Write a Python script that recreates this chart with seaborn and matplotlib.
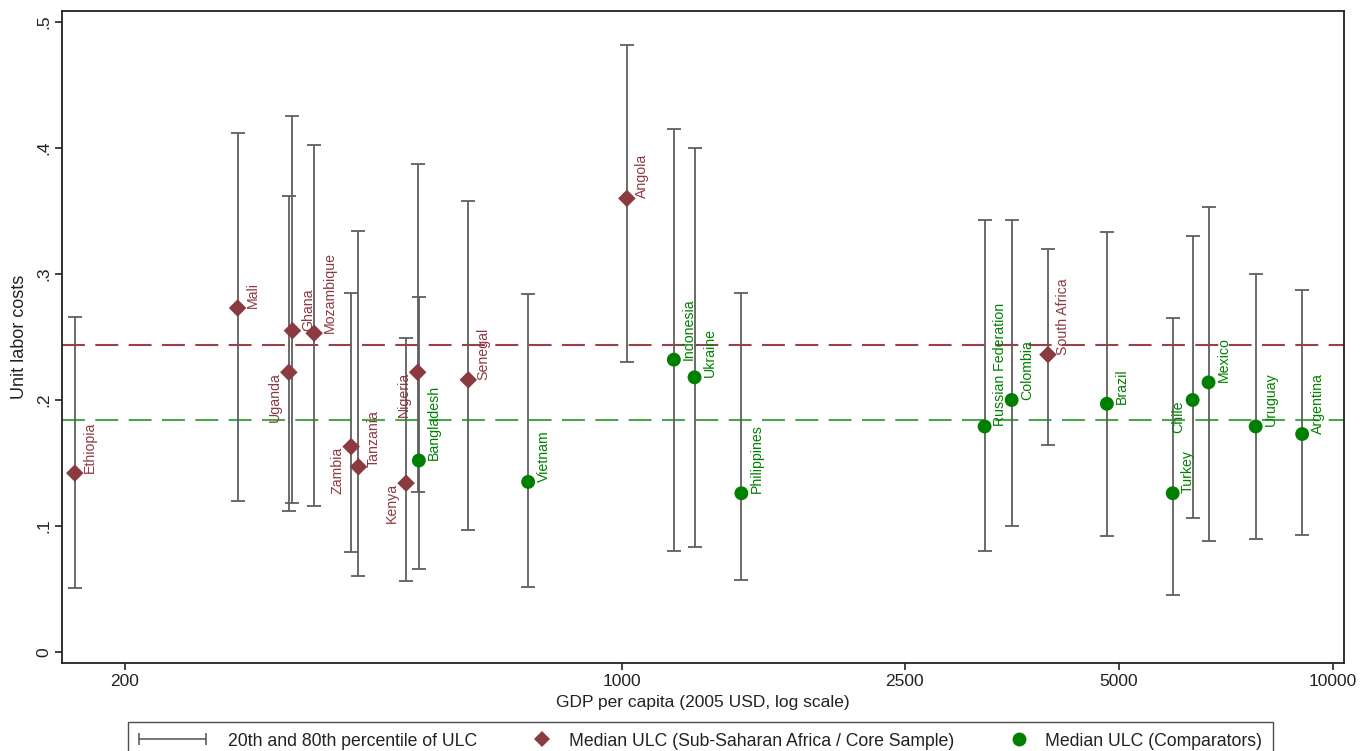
import numpy as np
import pandas as pd
import matplotlib
matplotlib.use("Agg")
import matplotlib.pyplot as plt
import seaborn as sns
from matplotlib.lines import Line2D
from matplotlib.legend_handler import HandlerLine2D

# Values
countries = [
    "Ethiopia", "Mali", "Uganda", "Ghana", "Mozambique", "Zambia", "Tanzania",
    "Kenya", "Nigeria", "Bangladesh", "Senegal", "Vietnam", "Angola",
    "Indonesia", "Ukraine", "Philippines", "Russian Federation", "Colombia",
    "South Africa", "Brazil", "Turkey", "Chile", "Mexico", "Uruguay", "Argentina",
]
gdp_per_capita = [
    170, 288, 340, 344, 369, 416, 426,
    497, 516, 518, 608, 738, 1016,
    1183, 1265, 1472, 3236, 3532,
    3973, 4808, 5951, 6347, 6683, 7785, 9050,
]
ulc_median = [
    0.142, 0.273, 0.222, 0.255, 0.253, 0.163, 0.147,
    0.134, 0.222, 0.152, 0.216, 0.135, 0.360,
    0.232, 0.218, 0.126, 0.179, 0.200,
    0.236, 0.197, 0.126, 0.200, 0.214, 0.179, 0.173,
]
ulc_p20 = [
    0.051, 0.120, 0.112, 0.118, 0.116, 0.079, 0.060,
    0.056, 0.127, 0.066, 0.097, 0.052, 0.230,
    0.080, 0.083, 0.057, 0.080, 0.100,
    0.164, 0.092, 0.045, 0.106, 0.088, 0.090, 0.093,
]
ulc_p80 = [
    0.266, 0.412, 0.362, 0.425, 0.402, 0.285, 0.334,
    0.249, 0.387, 0.282, 0.358, 0.284, 0.482,
    0.415, 0.400, 0.285, 0.343, 0.343,
    0.320, 0.333, 0.265, 0.330, 0.353, 0.300, 0.287,
]
group = [
    "SSA", "SSA", "SSA", "SSA", "SSA", "SSA", "SSA",
    "SSA", "SSA", "Comp", "SSA", "Comp", "SSA",
    "Comp", "Comp", "Comp", "Comp", "Comp",
    "SSA", "Comp", "Comp", "Comp", "Comp", "Comp", "Comp",
]

ssa_median_line = 0.2437
comp_median_line = 0.184

x_ticks = [200, 1000, 2500, 5000, 10000]
y_ticks = [0, 0.1, 0.2, 0.3, 0.4, 0.5]
y_tick_labels = ["0", ".1", ".2", ".3", ".4", ".5"]

legend_labels = [
    "20th and 80th percentile of ULC",
    "Median ULC (Sub-Saharan Africa / Core Sample)",
    "Median ULC (Comparators)",
]

# labels drawn on the left-hand side of their marker
left_labelled = {"Uganda", "Zambia", "Kenya", "Nigeria", "Chile"}

RED = "#8b3a40"
GREEN = "#008000"
RED_LINE = "#9a4048"
GREEN_LINE = "#4aa84a"
BAR = "#5f5f5f"


class EndMarkerHandler(HandlerLine2D):
    """Put the single legend marker near the right end of the handle box."""

    def get_xdata(self, legend, xdescent, ydescent, width, height, fontsize):
        x = -xdescent + width - 0.25 * fontsize
        return np.array([x, x]), np.array([x])


def main() -> None:
    df = pd.DataFrame({
        "country": countries,
        "gdp": gdp_per_capita,
        "median": ulc_median,
        "p20": ulc_p20,
        "p80": ulc_p80,
        "group": group,
    })

    sns.set_style("white")
    plt.rcParams["font.family"] = ["Liberation Sans", "DejaVu Sans"]

    fig = plt.figure(figsize=(13.6, 7.51), dpi=100)
    ax = fig.add_axes([62 / 1360, 88 / 751, 1282 / 1360, 652 / 751])

    ax.axhline(ssa_median_line, color=RED_LINE, lw=1.5, dashes=(11, 5), zorder=1)
    ax.axhline(comp_median_line, color=GREEN_LINE, lw=1.5, dashes=(11, 5), zorder=1)

    ax.errorbar(
        df["gdp"], df["median"],
        yerr=[df["median"] - df["p20"], df["p80"] - df["median"]],
        fmt="none", ecolor=BAR, elinewidth=1.3, capsize=5, capthick=1.3, zorder=2,
    )

    ssa = df[df["group"] == "SSA"]
    comp = df[df["group"] == "Comp"]
    sns.scatterplot(data=ssa, x="gdp", y="median", marker="D", s=80, color=RED,
                    edgecolor="none", linewidth=0, ax=ax, zorder=3, legend=False)
    sns.scatterplot(data=comp, x="gdp", y="median", marker="o", s=100, color=GREEN,
                    edgecolor="none", linewidth=0, ax=ax, zorder=3, legend=False)

    for _, row in df.iterrows():
        colour = RED if row["group"] == "SSA" else GREEN
        if row["country"] in left_labelled:
            ax.annotate(row["country"], (row["gdp"], row["median"]),
                        xytext=(-5, 0), textcoords="offset points",
                        rotation=90, ha="right", va="top",
                        fontsize=10.2, color=colour, zorder=4)
        else:
            ax.annotate(row["country"], (row["gdp"], row["median"]),
                        xytext=(6, 0), textcoords="offset points",
                        rotation=90, ha="left", va="bottom",
                        fontsize=10.2, color=colour, zorder=4)

    ax.set_xscale("log")
    ax.set_xlim(163.1, 10363)
    ax.set_ylim(-0.0087, 0.5087)
    ax.set_xticks(x_ticks)
    ax.set_xticklabels([str(t) for t in x_ticks])
    ax.xaxis.set_minor_locator(plt.NullLocator())
    ax.set_yticks(y_ticks)
    ax.set_yticklabels(y_tick_labels, rotation=90, va="center")
    ax.tick_params(axis="both", direction="out", length=5, width=1.2,
                   color="#222222", labelsize=12.5, pad=3, labelcolor="#222222")
    ax.tick_params(axis="both", which="both", bottom=True, left=True)

    ax.set_xlabel("GDP per capita (2005 USD, log scale)", fontsize=12.5,
                  color="#222222", labelpad=4)
    ax.set_ylabel("Unit labor costs", fontsize=13, color="#222222", labelpad=6)

    for spine in ax.spines.values():
        spine.set_visible(True)
        spine.set_color("#222222")
        spine.set_linewidth(1.3)

    # legend
    h_range = Line2D([], [], color=BAR, lw=1.2, marker="|", markersize=9,
                     markeredgewidth=1.2)
    h_ssa = Line2D([], [], ls="none", marker="D", markersize=8, color=RED,
                   markeredgewidth=0)
    h_comp = Line2D([], [], ls="none", marker="o", markersize=10, color=GREEN,
                    markeredgewidth=0)
    leg = fig.legend(
        [h_range, h_ssa, h_comp], legend_labels,
        loc="upper left", bbox_to_anchor=(128 / 1360, 1 - 722 / 751),
        ncol=3, frameon=True, fancybox=False, fontsize=12.7,
        handlelength=3.8, handletextpad=1.25, columnspacing=0.15,
        borderpad=0.6, borderaxespad=0,
        handler_map={
            h_range: HandlerLine2D(numpoints=2, marker_pad=0),
            h_ssa: EndMarkerHandler(numpoints=1),
            h_comp: EndMarkerHandler(numpoints=1),
        },
    )
    leg.get_frame().set_edgecolor("#222222")
    leg.get_frame().set_linewidth(1.0)
    for t in leg.get_texts():
        t.set_color("#222222")

    fig.savefig("out.png", dpi=100, facecolor="white")
    plt.close(fig)


if __name__ == "__main__":
    main()
